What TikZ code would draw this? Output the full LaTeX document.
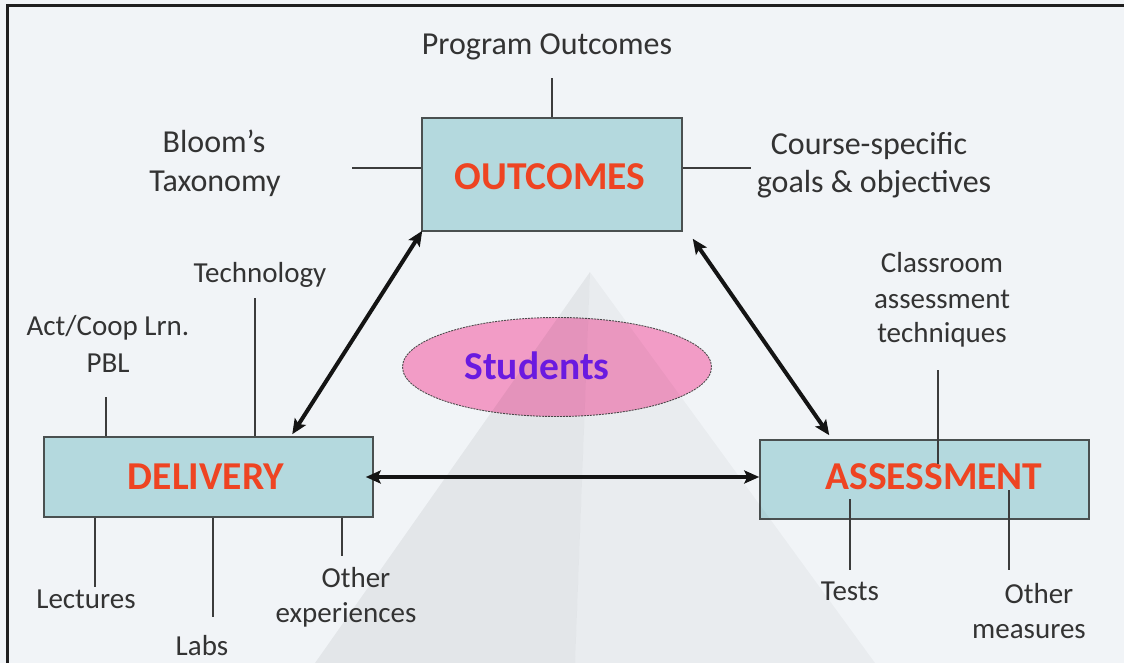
\documentclass[tikz,border=0pt]{standalone}
\usepackage{fontspec}
\setmainfont{Carlito}
\usetikzlibrary{arrows.meta,calc,shapes.geometric}
\definecolor{bg}{HTML}{F1F4F7}
\definecolor{boxfill}{HTML}{B4D9DE}
\definecolor{boxline}{HTML}{4A5050}
\definecolor{titlered}{HTML}{EE4422}
\definecolor{stupurple}{HTML}{6A1AE0}
\definecolor{stupink}{HTML}{F29CC6}
\definecolor{labelgray}{HTML}{333333}
\definecolor{stubgray}{HTML}{3C3C3C}
\begin{document}
\begin{tikzpicture}[x=1pt,y=-1pt,
 box/.style={draw=boxline,fill=boxfill,line width=1.5pt,rectangle,inner sep=0pt},
 boxtext/.style={anchor=base,text=titlered,font=\fontsize{39.5}{46}\selectfont\bfseries,inner sep=0pt},
 lab/.style={anchor=base,text=labelgray,font=\fontsize{29}{35}\selectfont,inner sep=0pt},
 biglab/.style={anchor=base,text=labelgray,font=\fontsize{32}{39}\selectfont,inner sep=0pt},
 stub/.style={draw=stubgray,line width=1.3pt},
 link/.style={draw=black!92,line width=4pt,{Stealth[length=15pt,width=13pt,inset=3pt]}-{Stealth[length=15pt,width=13pt,inset=3pt]}}
]
\useasboundingbox (0,0) rectangle (1124,663);
\fill[bg] (0,0) rectangle (1124,663);
% frame
\draw[line width=3pt,color=black!88] (7,663) -- (7,6) -- (1124,6);

% boxes
\node[box,minimum width=260pt,minimum height=113pt] (out) at (552,174.5) {};
\node[box,minimum width=329pt,minimum height=80pt] (del) at (208.5,477) {};
\node[box,minimum width=329pt,minimum height=79pt] (ass) at (924.5,479.5) {};

% students ellipse
\node[ellipse,draw=black!70,dash pattern=on 2pt off 1pt,line width=0.9pt,fill=stupink,minimum width=309pt,minimum height=99pt,inner sep=0pt] (stu) at (557,367) {};

% watermark
\fill[black,opacity=0.055] (590,272) -- (315,663) -- (575,663) -- cycle;
\fill[black,opacity=0.03] (590,272) -- (575,663) -- (875,663) -- cycle;

% box texts
\node[boxtext] (outT) at (550,190) {OUTCOMES};
\node[boxtext] (delT) at (206,489) {DELIVERY};
\node[boxtext] (assT) at (934,489) {ASSESSMENT};
\node[anchor=base,text=stupurple,font=\fontsize{39.5}{46}\selectfont\bfseries,inner sep=0pt] (stuT) at (537,379) {Students};

% outcomes stubs
\coordinate (poEnd) at (552,78);
\coordinate (blEnd) at (352,168);
\coordinate (csEnd) at (751,168);
\draw[stub] (out.north) -- (poEnd);
\draw[stub] (out.west |- blEnd) -- (blEnd);
\draw[stub] (out.east |- csEnd) -- (csEnd);
\node[biglab] (po) at (547,55) {Program Outcomes};
\node[biglab] (bl1) at (214,153) {Bloom’s};
\node[biglab] (bl2) at (215,192) {Taxonomy};
\node[biglab] (cs1) at (869,155) {Course-specific};
\node[biglab] (cs2) at (874,193) {goals \& objectives};

% delivery stubs
\coordinate (acEnd) at (106,397);
\coordinate (teEnd) at (255,298);
\coordinate (leEnd) at (95,587);
\coordinate (laEnd) at (213,617);
\coordinate (oeEnd) at (342,556);
\draw[stub] (del.north -| acEnd) -- (acEnd);
\draw[stub] (del.north -| teEnd) -- (teEnd);
\draw[stub] (del.south -| leEnd) -- (leEnd);
\draw[stub] (del.south -| laEnd) -- (laEnd);
\draw[stub] (del.south -| oeEnd) -- (oeEnd);
\node[lab] (te) at (260,282) {Technology};
\node[lab] (ac1) at (108,335) {Act/Coop Lrn.};
\node[lab] (ac2) at (108,372) {PBL};
\node[lab] (le) at (86,608) {Lectures};
\node[lab] (la) at (202,655) {Labs};
\node[lab] (oe1) at (356,587) {Other};
\node[lab] (oe2) at (346,622) {experiences};

% assessment stubs
\coordinate (ctEnd) at (938,370);
\coordinate (ctIn) at (938,464);
\coordinate (tsTop) at (850,499);
\coordinate (tsEnd) at (850,570);
\coordinate (omTop) at (1009,490);
\coordinate (omEnd) at (1009,570);
\draw[stub] (ctEnd) -- (ctIn);
\draw[stub] (tsTop) -- (tsEnd);
\draw[stub] (omTop) -- (omEnd);
\node[lab] (ct1) at (942,272) {Classroom};
\node[lab] (ct2) at (942,308) {assessment};
\node[lab] (ct3) at (942,342) {techniques};
\node[lab] (ts) at (850,600) {Tests};
\node[lab] (om1) at (1039,603) {Other};
\node[lab] (om2) at (1029,638) {measures};

% links
\draw[link] ($(out.south west)+(1,-1)$) -- ($(del.north west)+(249,-2)$);
\draw[link] ($(out.south east)+(10,7)$) -- ($(ass.north west)+(70,-4)$);
\draw[link] ($(del.east)+(-8,0)$) -- (ass.west |- del.east);
\end{tikzpicture}
\end{document}
